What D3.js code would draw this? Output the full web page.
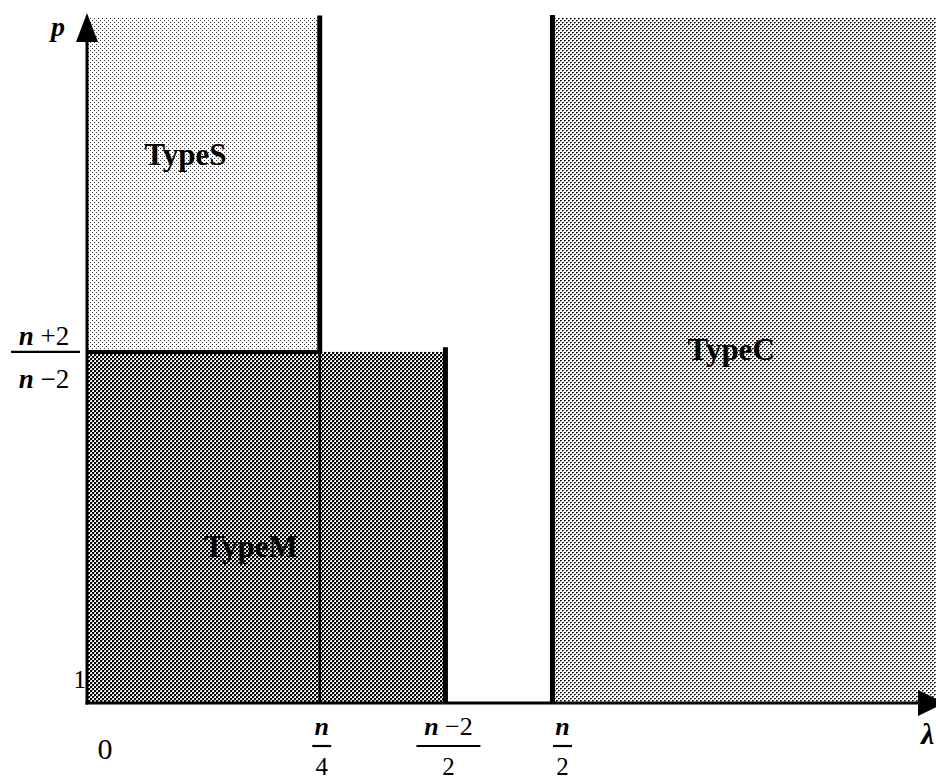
<!DOCTYPE html>
<html>
<head>
<meta charset="utf-8">
<script src="https://cdn.jsdelivr.net/npm/d3@7"></script>
<style>
  html, body { margin: 0; padding: 0; background: #fff; }
  svg { display: block; }
</style>
</head>
<body>
<svg id="chart" width="936" height="781"></svg>
<script>
// ---- data ----
const n = 8.7;                                  // schematic value of n
const pCrit = (n + 2) / (n - 2);                // p = (n+2)/(n-2)
const pMin = 1;
const pTop = 2.165;
const xTop = 8;

const regionNames  = ["TypeS", "TypeM", "TypeC"];
const regionX0     = [0, 0, n / 2];
const regionX1     = [n / 4, (n - 2) / 2, xTop];
const regionP0     = [pCrit, pMin, pMin];
const regionP1     = [pTop, pCrit, pTop];
const regionLabelX = [0.92, 1.53, 6.02];
const regionLabelP = [1.915, 1.248, 1.583];

const xTickValues  = [0, n / 4, (n - 2) / 2, n / 2];
const xTickNum     = ["0", "n", "n \u22122", "n"];
const xTickDen     = [null, "4", "2", "2"];

const yTickValues  = [pMin, pCrit];
const yTickNum     = ["1", "n +2"];
const yTickDen     = [null, "n \u22122"];

// boundary segments: [x0, p0, x1, p1, weight]
const boundaries = [
  [n / 4, pCrit, n / 4, pTop + 0.004, "thick"],
  [n / 4, pMin, n / 4, pCrit, "thin"],
  [0, pCrit, n / 4, pCrit, "mid"],
  [(n - 2) / 2, pMin, (n - 2) / 2, pCrit + 0.008, "thick"],
  [n / 2, pMin, n / 2, pTop + 0.005, "thick"]
];

// ---- scales ----
const svg = d3.select("#chart");
const x = d3.scaleLinear().domain([0, xTop]).range([87, 943]);
const y = d3.scaleLinear().domain([pMin, 2.17]).range([703, 15]);

// ---- patterns (halftone look) ----
const defs = svg.append("defs");
function pattern(id, size, cells) {
  const p = defs.append("pattern").attr("id", id)
    .attr("patternUnits", "userSpaceOnUse")
    .attr("width", size).attr("height", size);
  p.append("rect").attr("width", size).attr("height", size).attr("fill", "#fff");
  cells.forEach(c => p.append("rect").attr("x", c[0]).attr("y", c[1])
    .attr("width", c[2]).attr("height", c[3]).attr("fill", c[4])
    .attr("shape-rendering", "crispEdges"));
}
pattern("patS", 4, [[0, 0, 1, 1, "#333"], [2, 2, 1, 1, "#333"]]);
pattern("patC", 4, [[0, 0, 1, 1, "#000"], [1, 0, 1, 1, "#444"], [0, 1, 1, 1, "#888"],
                    [2, 2, 1, 1, "#000"], [3, 2, 1, 1, "#444"], [2, 3, 1, 1, "#888"]]);
pattern("patM", 4, [[0, 0, 2, 2, "#000"], [2, 2, 2, 2, "#000"], [2, 0, 1, 1, "#999"], [0, 2, 1, 1, "#999"]]);
const patIds = ["patS", "patM", "patC"];

// ---- regions ----
svg.append("g").selectAll("rect").data(regionNames).join("rect")
  .attr("x", (d, i) => x(regionX0[i]))
  .attr("y", (d, i) => y(regionP1[i]))
  .attr("width", (d, i) => x(regionX1[i]) - x(regionX0[i]))
  .attr("height", (d, i) => y(regionP0[i]) - y(regionP1[i]))
  .attr("fill", (d, i) => `url(#${patIds[i]})`);

// ---- boundaries ----
const widths = { thick: 5, mid: 4, thin: 2.5 };
svg.append("g").selectAll("line").data(boundaries).join("line")
  .attr("x1", d => x(d[0])).attr("y1", d => y(d[1]))
  .attr("x2", d => x(d[2])).attr("y2", d => y(d[3]))
  .attr("stroke", "#000").attr("stroke-width", d => widths[d[4]]);

// ---- axes ----
const axes = svg.append("g");
axes.append("line").attr("x1", x(0)).attr("x2", x(0))
  .attr("y1", y(pMin) + 1.5).attr("y2", y(2.17) + 20)
  .attr("stroke", "#000").attr("stroke-width", 3);
axes.append("path")
  .attr("d", `M${x(0)},${y(2.17) - 2} L${x(0) - 11},${y(2.17) + 27} L${x(0) + 11},${y(2.17) + 27} Z`)
  .attr("fill", "#000");
axes.append("line").attr("x1", x(0) - 1.5).attr("x2", x(xTop) - 20)
  .attr("y1", y(pMin)).attr("y2", y(pMin))
  .attr("stroke", "#000").attr("stroke-width", 3);
axes.append("path")
  .attr("d", `M${x(xTop) + 2},${y(pMin)} L${x(xTop) - 25},${y(pMin) - 13} L${x(xTop) - 25},${y(pMin) + 13} Z`)
  .attr("fill", "#000");

const serif = "'Liberation Serif', 'DejaVu Serif', serif";

// axis names
axes.append("text").attr("x", 58).attr("y", 36).attr("text-anchor", "middle")
  .attr("font-family", serif).attr("font-style", "italic").attr("font-weight", "bold")
  .attr("font-size", 28).text("p");
axes.append("text").attr("x", 921).attr("y", 744)
  .attr("font-family", serif).attr("font-style", "italic").attr("font-weight", "bold")
  .attr("font-size", 30).text("\u03bb");

function italicN(sel, str) {
  if (str.startsWith("n")) {
    sel.append("tspan").attr("font-style", "italic").attr("font-weight", "bold").text("n");
    sel.append("tspan").text(str.slice(1));
  } else {
    sel.text(str);
  }
}

// x tick labels
const xLabelShift = [18, 2, 3, 10];
const xt = svg.append("g").attr("font-family", serif).attr("font-size", 26);
xTickValues.forEach((v, i) => {
  const cx = x(v) + xLabelShift[i];
  if (xTickDen[i] === null) {
    xt.append("text").attr("x", cx).attr("y", 759).attr("text-anchor", "middle")
      .attr("font-size", 30).text(xTickNum[i]);
  } else {
    const w = xTickNum[i].length > 1 ? 64 : 19;
    italicN(xt.append("text").attr("x", cx).attr("y", 735).attr("text-anchor", "middle"), xTickNum[i]);
    xt.append("line").attr("x1", cx - w / 2).attr("x2", cx + w / 2)
      .attr("y1", 746).attr("y2", 746).attr("stroke", "#000").attr("stroke-width", 2.2);
    xt.append("text").attr("x", cx).attr("y", 775).attr("text-anchor", "middle")
      .attr("font-size", 25).text(xTickDen[i]);
  }
});

// y tick labels
const yt = svg.append("g").attr("font-family", serif).attr("font-size", 27);
yTickValues.forEach((v, i) => {
  const cy = y(v);
  if (yTickDen[i] === null) {
    yt.append("text").attr("x", 86).attr("y", cy - 15).attr("text-anchor", "end")
      .attr("font-size", 25).text(yTickNum[i]);
  } else {
    italicN(yt.append("text").attr("x", 44).attr("y", cy - 7).attr("text-anchor", "middle"), yTickNum[i]);
    yt.append("line").attr("x1", 11).attr("x2", 80).attr("y1", cy).attr("y2", cy)
      .attr("stroke", "#000").attr("stroke-width", 2.2);
    italicN(yt.append("text").attr("x", 44).attr("y", cy + 36).attr("text-anchor", "middle"), yTickDen[i]);
  }
});

// region labels
svg.append("g").selectAll("text").data(regionNames).join("text")
  .attr("x", (d, i) => x(regionLabelX[i]))
  .attr("y", (d, i) => y(regionLabelP[i]))
  .attr("text-anchor", "middle")
  .attr("font-family", serif).attr("font-size", 31).attr("font-weight", "bold")
  .attr("fill", "#000")
  .text(d => d);
</script>
</body>
</html>
